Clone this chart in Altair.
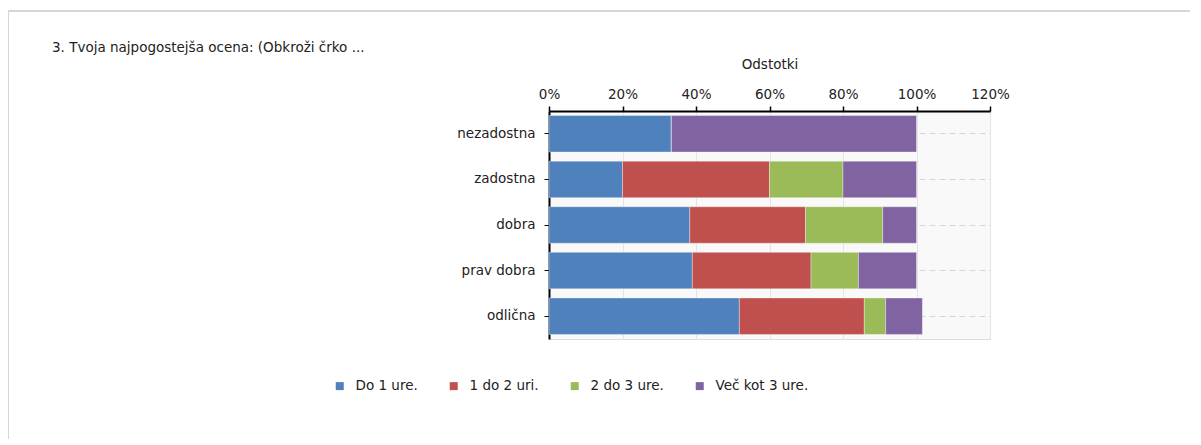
import altair as alt
import pandas as pd

categories = ["nezadostna", "zadostna", "dobra", "prav dobra", "odlična"]
series = ["Do 1 ure.", "1 do 2 uri.", "2 do 3 ure.", "Več kot 3 ure."]
do_1 = [33.3, 20.0, 38.3, 39.0, 51.8]
od_1_do_2 = [0.0, 40.0, 31.5, 32.3, 34.0]
od_2_do_3 = [0.0, 20.0, 21.0, 12.9, 5.8]
vec_kot_3 = [66.7, 20.0, 9.2, 15.8, 10.0]
colors = ["#4f81bd", "#c0504d", "#9bbb59", "#8064a2"]
x_ticks = [0, 20, 40, 60, 80, 100, 120]

rows = []
for si, (name, vals) in enumerate(zip(series, [do_1, od_1_do_2, od_2_do_3, vec_kot_3])):
    for c, v in zip(categories, vals):
        rows.append({"ocena": c, "serija": name, "red": si, "odstotek": v})
df = pd.DataFrame(rows)

FONT = "DejaVu Sans"
FS = 13.5

bars = alt.Chart(df).mark_bar(stroke="#ffffff", strokeOpacity=0.35, strokeWidth=1).encode(
    x=alt.X("odstotek:Q", stack="zero",
            scale=alt.Scale(domain=[0, 120], nice=False),
            axis=alt.Axis(orient="top", title="Odstotki", values=x_ticks,
                          labelExpr="datum.value + '%'", labelFlush=False,
                          tickSize=5, tickColor="#000000", tickWidth=1.5,
                          domainColor="#000000", domainWidth=2,
                          labelPadding=5, titlePadding=16,
                          grid=True, gridColor="#e4e4e4", gridWidth=1)),
    y=alt.Y("ocena:N", sort=categories, title=None,
            scale=alt.Scale(paddingInner=0.2, paddingOuter=0.1),
            axis=alt.Axis(tickSize=5, tickColor="#000000", domainColor="#000000",
                          domainWidth=2, labelPadding=9,
                          grid=True, gridDash=[6, 4], gridColor="#d6d6d6", gridWidth=1)),
    color=alt.Color("serija:N", sort=series,
                    scale=alt.Scale(domain=series, range=colors),
                    legend=alt.Legend(title=None, orient="none", direction="horizontal",
                                      legendX=-216, legendY=268, columns=4,
                                      symbolType="square", symbolSize=64,
                                      symbolStrokeWidth=0, labelOffset=9,
                                      columnPadding=29, labelFontSize=FS,
                                      labelColor="#222222", labelFont=FONT)),
    order=alt.Order("red:Q"),
)

frame_df = pd.DataFrame({"k": [0]})
frame = alt.Chart(frame_df).mark_rect(fill=None, stroke="#d6d6d6", strokeWidth=2).encode(
    x=alt.value(-541), x2=alt.value(700), y=alt.value(-100), y2=alt.value(400)
)

chart = alt.layer(frame, bars).properties(
    width=441, height=228,
    background="#ffffff",
    title=alt.TitleParams("3. Tvoja najpogostejša ocena: (Obkroži črko ...",
                          anchor="start", frame="group", dx=-497, dy=38,
                          offset=-6,
                          fontSize=FS, fontWeight="normal", font=FONT,
                          color="#222222"),
    autosize=alt.AutoSizeParams(type="none"),
    padding={"left": 541, "top": 103, "right": 200, "bottom": 100},
).configure_view(
    fill="#f9f9f9", stroke="#dddddd", strokeWidth=1
).configure_axis(
    labelFont=FONT, titleFont=FONT, labelFontSize=FS, titleFontSize=FS,
    titleFontWeight="normal", labelColor="#222222", titleColor="#222222"
)

chart.save("out.html", embed_options={"renderer": "svg", "actions": False})
